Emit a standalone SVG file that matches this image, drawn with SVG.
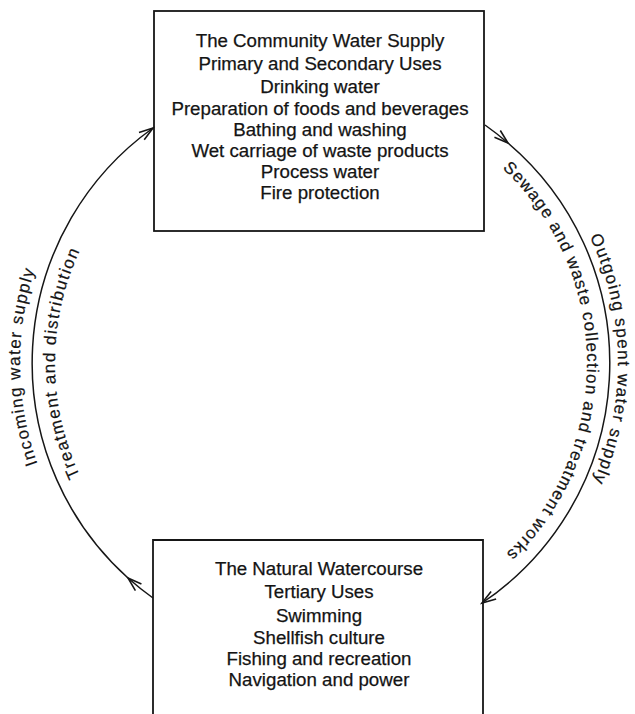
<svg xmlns="http://www.w3.org/2000/svg" width="635" height="714" viewBox="0 0 635 714">
  <style>
    .box { fill: none; stroke: #161616; stroke-width: 1.8; }
    .flow { fill: none; stroke: #161616; stroke-width: 1.5; marker-mid: url(#barb); marker-end: url(#barb); }
    .label { font-family: "Liberation Sans", Arial, sans-serif; font-size: 18.7px; fill: #141414; stroke: #141414; stroke-width: 0.25px; text-anchor: middle; }
    .arc-label { font-family: "Liberation Sans", Arial, sans-serif; font-size: 17px; fill: #141414; stroke: #141414; stroke-width: 0.2px; text-anchor: middle; letter-spacing: 1.4px; }
  </style>
  <defs>
    <!-- open barbed arrowhead used along the flow arcs -->
    <marker id="barb" markerUnits="userSpaceOnUse" markerWidth="20" markerHeight="14" viewBox="-16 -7 20 14" refX="0" refY="0" orient="auto">
      <path d="M-14,-4.5 L0,0 L-14,4.5" fill="none" stroke="#161616" stroke-width="1.6"/>
    </marker>
    <!-- clockwise baselines for the curved captions, centre (321,363) -->
    <path id="leftOuter" d="M76.6,538.6 A301,301 0 0 1 72.3,193.4"/>
    <path id="leftInner" d="M117.2,534 A266,266 0 0 1 117.2,192"/>
    <path id="rightOuter" d="M546,169.1 A297,297 0 0 1 551,550.9"/>
    <path id="rightInner" d="M452,131.5 A266,266 0 0 1 456,592.2"/>
  </defs>

  <rect width="635" height="714" fill="#ffffff"/>

  <g id="connectors">
    <!-- incoming supply: watercourse up to the community -->
    <path id="incoming" class="flow" d="M153,598 A289,289 0 0 1 128,578 A289,289 0 0 1 153,128"/>
    <!-- outgoing spent supply: community down to the watercourse -->
    <path id="outgoing" class="flow" d="M485,125 A289,289 0 0 1 508,143 A289,289 0 0 1 482,603"/>
    <text class="arc-label"><textPath href="#leftOuter" startOffset="50%">Incoming water supply</textPath></text>
    <text class="arc-label"><textPath href="#leftInner" startOffset="50%">Treatment and distribution</textPath></text>
    <text class="arc-label"><textPath href="#rightOuter" startOffset="50%">Outgoing spent water supply</textPath></text>
    <text class="arc-label" style="letter-spacing:1.15px"><textPath href="#rightInner" startOffset="50%">Sewage and waste collection and treatment works</textPath></text>
  </g>

  <g id="community">
    <rect class="box" x="154" y="11" width="330" height="220"/>
    <text class="label" x="320" y="47">The Community Water Supply</text>
    <text class="label" x="320" y="70">Primary and Secondary Uses</text>
    <text class="label" x="320" y="93">Drinking water</text>
    <text class="label" x="320" y="115">Preparation of foods and beverages</text>
    <text class="label" x="320" y="136">Bathing and washing</text>
    <text class="label" x="320" y="157">Wet carriage of waste products</text>
    <text class="label" x="320" y="178">Process water</text>
    <text class="label" x="320" y="199">Fire protection</text>
  </g>

  <g id="watercourse">
    <path class="box" d="M153,720 V540 H483 V720"/>
    <text class="label" x="319" y="575">The Natural Watercourse</text>
    <text class="label" x="319" y="598">Tertiary Uses</text>
    <text class="label" x="319" y="622">Swimming</text>
    <text class="label" x="319" y="644">Shellfish culture</text>
    <text class="label" x="319" y="665">Fishing and recreation</text>
    <text class="label" x="319" y="686">Navigation and power</text>
  </g>
</svg>
